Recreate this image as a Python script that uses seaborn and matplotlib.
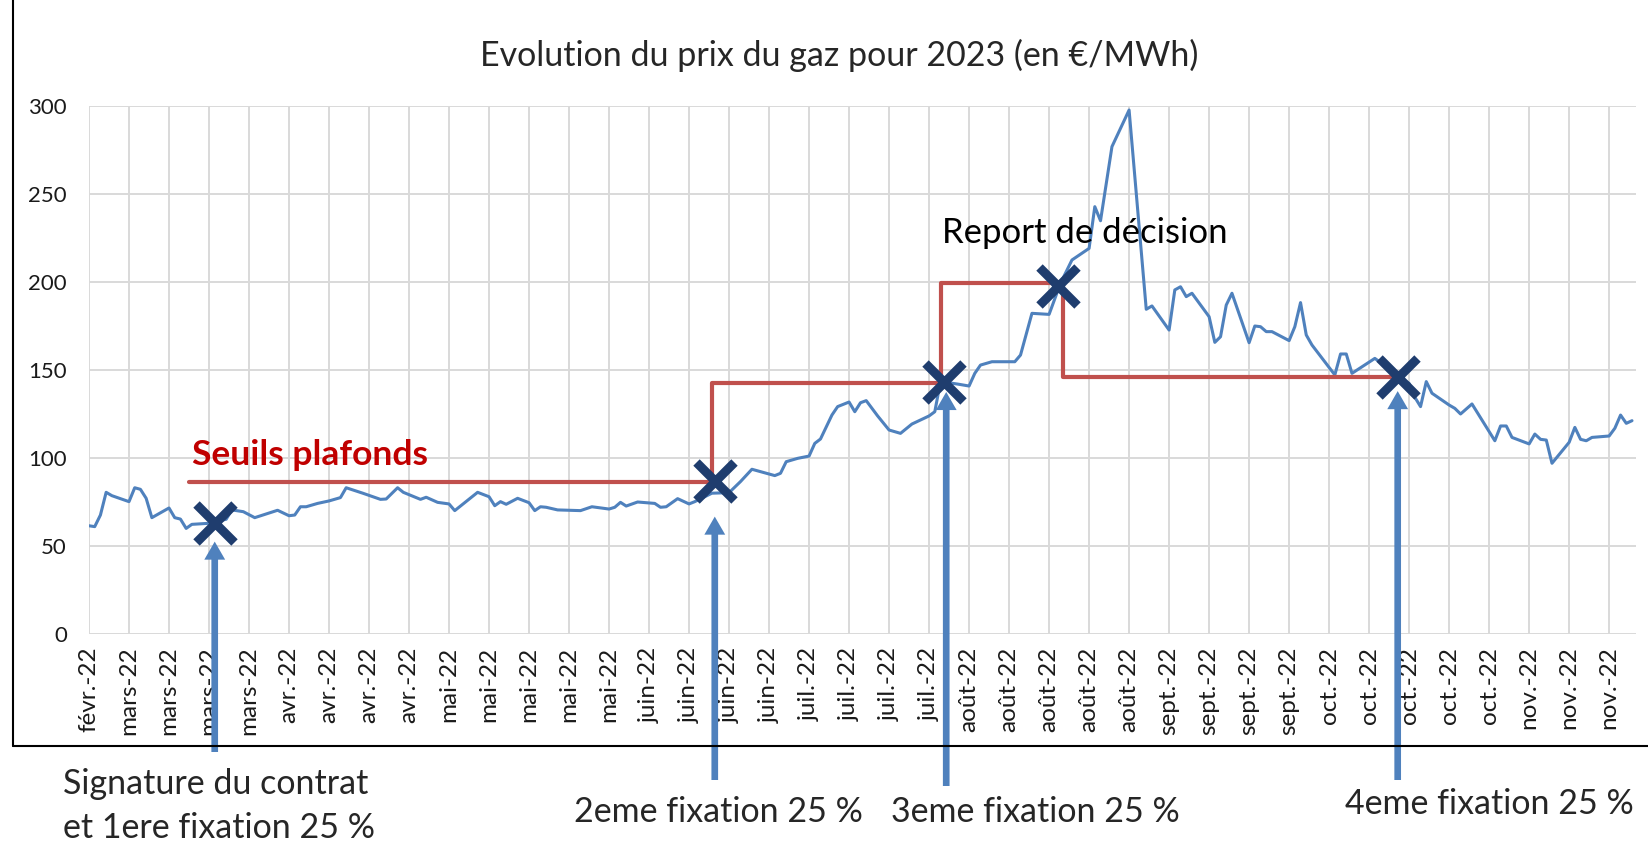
import matplotlib
matplotlib.use("Agg")
import matplotlib.pyplot as plt
from matplotlib.lines import Line2D
import seaborn as sns
import pandas as pd

# Prix du gaz (€/MWh)
price_dates = [
    "2022-02-28", "2022-03-01", "2022-03-02", "2022-03-03", "2022-03-04", "2022-03-07",
    "2022-03-08", "2022-03-09", "2022-03-10", "2022-03-11", "2022-03-14", "2022-03-15",
    "2022-03-16", "2022-03-17", "2022-03-18", "2022-03-21", "2022-03-24", "2022-03-25",
    "2022-03-27", "2022-03-29", "2022-04-02", "2022-04-04", "2022-04-05", "2022-04-06",
    "2022-04-07", "2022-04-09", "2022-04-11", "2022-04-13", "2022-04-14", "2022-04-17",
    "2022-04-20", "2022-04-21", "2022-04-23", "2022-04-24", "2022-04-27", "2022-04-28",
    "2022-04-30", "2022-05-02", "2022-05-03", "2022-05-04", "2022-05-07", "2022-05-09",
    "2022-05-10", "2022-05-11", "2022-05-12", "2022-05-14", "2022-05-16", "2022-05-17",
    "2022-05-18", "2022-05-19", "2022-05-21", "2022-05-25", "2022-05-27", "2022-05-30",
    "2022-05-31", "2022-06-01", "2022-06-02", "2022-06-04", "2022-06-07", "2022-06-08",
    "2022-06-09", "2022-06-11", "2022-06-13", "2022-06-14", "2022-06-17", "2022-06-20",
    "2022-06-22", "2022-06-24", "2022-06-28", "2022-06-29", "2022-06-30", "2022-07-02",
    "2022-07-04", "2022-07-05", "2022-07-06", "2022-07-08", "2022-07-09", "2022-07-11",
    "2022-07-12", "2022-07-13", "2022-07-14", "2022-07-16", "2022-07-18", "2022-07-20",
    "2022-07-22", "2022-07-25", "2022-07-26", "2022-07-27", "2022-07-30", "2022-08-01",
    "2022-08-02", "2022-08-03", "2022-08-05", "2022-08-09", "2022-08-10", "2022-08-12",
    "2022-08-15", "2022-08-17", "2022-08-19", "2022-08-22", "2022-08-23", "2022-08-24",
    "2022-08-26", "2022-08-29", "2022-09-01", "2022-09-02", "2022-09-05", "2022-09-06",
    "2022-09-07", "2022-09-08", "2022-09-09", "2022-09-12", "2022-09-13", "2022-09-14",
    "2022-09-15", "2022-09-16", "2022-09-19", "2022-09-20", "2022-09-21", "2022-09-22",
    "2022-09-23", "2022-09-26", "2022-09-27", "2022-09-28", "2022-09-29", "2022-09-30",
    "2022-10-04", "2022-10-05", "2022-10-06", "2022-10-07", "2022-10-11", "2022-10-13",
    "2022-10-15", "2022-10-17", "2022-10-18", "2022-10-19", "2022-10-20", "2022-10-21",
    "2022-10-24", "2022-10-25", "2022-10-26", "2022-10-28", "2022-11-01", "2022-11-02",
    "2022-11-03", "2022-11-04", "2022-11-07", "2022-11-08", "2022-11-09", "2022-11-10",
    "2022-11-11", "2022-11-14", "2022-11-15", "2022-11-16", "2022-11-17", "2022-11-18",
    "2022-11-21", "2022-11-22", "2022-11-23", "2022-11-24", "2022-11-25",
]
price_values = [
    61.5, 61.0, 67.6, 80.5, 78.6, 75.2,
    83.1, 82.2, 77.1, 66.1, 71.6, 66.1,
    65.3, 60.0, 62.3, 62.9, 65.2, 70.5,
    69.5, 66.1, 70.3, 67.2, 67.6, 72.3,
    72.3, 74.2, 75.6, 77.5, 83.1, 79.9,
    76.5, 76.7, 83.1, 80.5, 76.5, 77.7,
    74.8, 73.9, 70.1, 72.7, 80.5, 78.0,
    72.9, 75.2, 73.7, 77.1, 74.6, 70.1,
    72.3, 72.0, 70.5, 70.1, 72.3, 71.0,
    72.0, 74.8, 72.7, 75.0, 74.2, 72.0,
    72.3, 76.9, 73.9, 75.2, 80.0, 80.3,
    86.6, 93.6, 90.0, 91.3, 97.9, 99.8,
    101.1, 108.3, 110.8, 124.4, 129.2, 131.8,
    126.3, 131.4, 132.6, 123.9, 115.9, 114.0,
    119.3, 123.9, 126.3, 143.4, 142.0, 140.9,
    148.1, 152.8, 154.7, 154.7, 158.5, 182.2,
    181.6, 199.3, 212.5, 219.1, 242.8, 234.8,
    276.9, 297.7, 184.5, 186.4, 172.7, 195.5,
    197.3, 191.7, 193.6, 180.3, 165.7, 168.9,
    186.9, 193.6, 165.5, 175.0, 174.6, 171.8,
    171.8, 166.7, 174.6, 188.3, 169.9, 164.2,
    147.2, 159.1, 159.1, 148.1, 156.6, 151.9,
    146.0, 142.4, 134.5, 129.2, 143.4, 136.8,
    130.1, 128.2, 125.0, 130.7, 109.8, 118.2,
    118.2, 111.7, 108.0, 113.6, 110.6, 110.2,
    97.0, 108.9, 117.4, 110.6, 109.8, 111.7,
    112.5, 116.9, 124.4, 119.7, 121.2,
]

# Seuils plafonds (ligne en escalier)
seuil_dates = ["2022-03-17 12:00", "2022-06-17 00:00", "2022-07-27 00:00",
               "2022-08-17 12:00", "2022-10-15 00:00"]
seuil_values = [86.5, 142.4, 199.2, 145.8, 145.8]

# Points de fixation (croix)
fix_dates = ["2022-03-22 00:00", "2022-06-17 12:00", "2022-07-27 14:00",
             "2022-08-16 12:00", "2022-10-15 00:00"]
fix_values = [63.0, 87.1, 143.4, 197.8, 146.0]

# Fleches et textes sous le graphique
arrow_dates = ["2022-03-22 00:00", "2022-06-17 12:00", "2022-07-28 00:00", "2022-10-15 00:00"]
arrow_tips = [52.5, 66.7, 137.5, 138.0]
arrow_tails_px = [752, 780, 786, 780]
notes = ["Signature du contrat\net 1ere fixation 25 %", "2eme fixation 25 %",
         "3eme fixation 25 %", "4eme fixation 25 %"]

tick_labels = (["févr.-22"] + ["mars-22"] * 4 + ["avr.-22"] * 4 + ["mai-22"] * 5
               + ["juin-22"] * 4 + ["juil.-22"] * 4 + ["août-22"] * 5 + ["sept.-22"] * 4
               + ["oct.-22"] * 5 + ["nov.-22"] * 3)
y_ticks = [0, 50, 100, 150, 200, 250, 300]

W, H = 1648, 846
sns.set_style("white")
plt.rcParams["font.family"] = ["Lato", "DejaVu Sans"]

df = pd.DataFrame({"date": pd.to_datetime(price_dates), "prix": price_values})
seuils = pd.DataFrame({"date": pd.to_datetime(seuil_dates), "seuil": seuil_values})

fig = plt.figure(figsize=(W / 100, H / 100), dpi=100)
ax = fig.add_axes([89 / W, (H - 634) / H, 1547 / W, 528 / H])

sns.lineplot(data=df, x="date", y="prix", ax=ax, color="#4F81BD", lw=2.2, zorder=3)
sns.lineplot(data=seuils, x="date", y="seuil", ax=ax, color="#C0504D", lw=3,
             drawstyle="steps-post", zorder=4)
ax.plot(pd.to_datetime(fix_dates), fix_values, ls="none", marker="x", ms=27, mew=6.5,
        color="#1F3D6E", zorder=6)

start = pd.Timestamp("2022-02-28")
ticks = pd.date_range(start, periods=len(tick_labels), freq="7D")
ax.set_xlim(start, start + pd.Timedelta(days=270.7))
ax.set_ylim(0, 300)
ax.set_xticks(ticks)
ax.set_xticklabels(tick_labels, rotation=90, fontsize=17.5, color="#1a1a1a")
ax.set_yticks(y_ticks)
ax.set_yticklabels([str(v) for v in y_ticks], fontsize=16, color="#1a1a1a")
ax.tick_params(axis="x", length=4, width=1.4, color="#D9D9D9", pad=5)
ax.tick_params(axis="y", length=0, pad=16)
ax.grid(True, color="#D9D9D9", lw=1.4)
ax.set_axisbelow(True)
for s in ax.spines.values():
    s.set_visible(False)
ax.set_xlabel("")
ax.set_ylabel("")

# textes dans le graphique
ax.text(pd.Timestamp("2022-03-18"), 96, "Seuils plafonds", color="#C00000",
        fontsize=25.5, fontweight="bold", va="baseline", ha="left", zorder=7)
ax.text(pd.Timestamp("2022-07-27 06:00"), 222, "Report de décision", color="black",
        fontsize=25, va="baseline", ha="left", zorder=7)

# fleches
for d, tip, tail in zip(arrow_dates, arrow_tips, arrow_tails_px):
    ax.annotate("", xy=(pd.Timestamp(d), tip), xycoords="data",
                xytext=(pd.Timestamp(d), H - tail), textcoords=("data", "figure pixels"),
                arrowprops=dict(arrowstyle="simple,head_length=0.65,head_width=0.75,tail_width=0.24",
                                mutation_scale=20, fc="#4F81BD", ec="#4F81BD", lw=0,
                                shrinkA=0, shrinkB=0),
                annotation_clip=False, zorder=5)

# titre et notes
fig.text(839 / W, 1 - 55 / H, "Evolution du prix du gaz pour 2023 (en €/MWh)",
         ha="center", va="center", fontsize=24.5)
fig.text(63 / W, 1 - 806 / H, notes[0], ha="left", va="center", fontsize=24.5, linespacing=1.45)
fig.text(574 / W, 1 - 812 / H, notes[1], ha="left", va="center", fontsize=24.5)
fig.text(891 / W, 1 - 812 / H, notes[2], ha="left", va="center", fontsize=24.5)
fig.text(1345 / W, 1 - 804 / H, notes[3], ha="left", va="center", fontsize=24.5)

# cadre du graphique (gauche et bas)
fig.add_artist(Line2D([13 / W, 13 / W], [1 - 746 / H, 1.0], color="black", lw=1.5))
fig.add_artist(Line2D([13 / W, 1.0], [1 - 746 / H, 1 - 746 / H], color="black", lw=1.5))

fig.savefig("out.png", dpi=100)
